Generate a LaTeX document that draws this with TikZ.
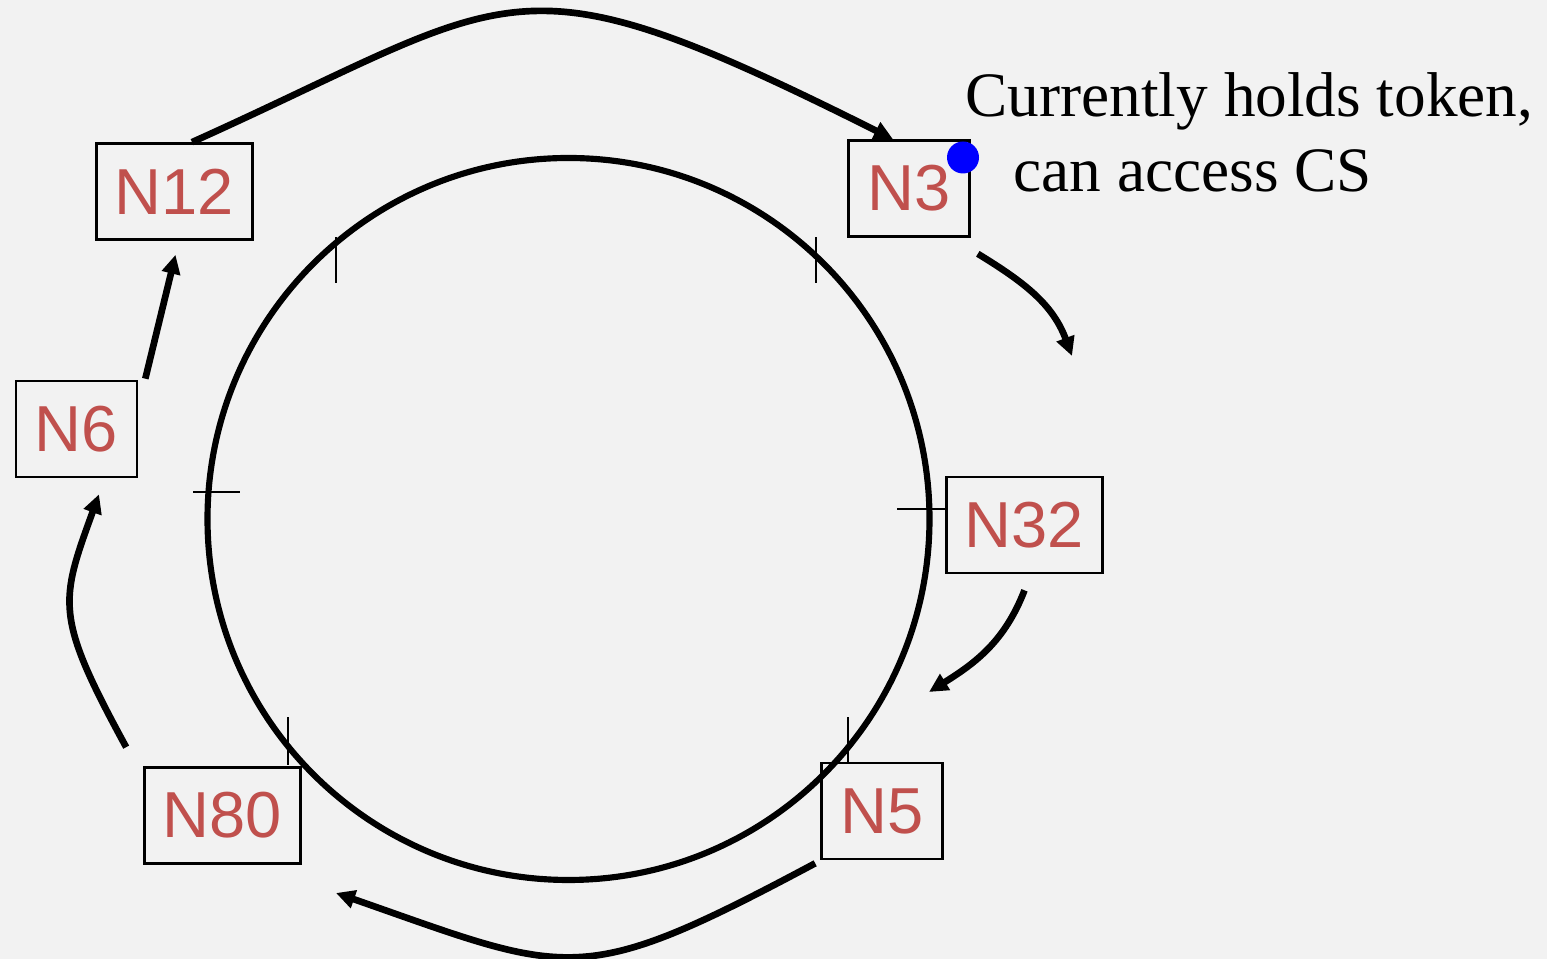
\documentclass[tikz,border=0pt]{standalone}
\usepackage{fontspec}
\setmainfont{Liberation Serif}
\newfontfamily\nodefont{Liberation Sans}
\usetikzlibrary{arrows.meta}
\definecolor{nodered}{RGB}{192,80,77}
\definecolor{slidegray}{RGB}{242,242,242}

\begin{document}
\begin{tikzpicture}[
  ring/.style={draw, rectangle, line width=0.75pt, minimum height=0.96cm, inner sep=0pt,
    text=nodered, font=\nodefont\fontsize{18.5}{22}\selectfont},
  flow/.style={-{Triangle[length=0.19cm,width=0.18cm]}, line width=1.9pt},
  tick/.style={line width=0.5pt}
]
\fill[slidegray] (0,0) rectangle (15.47,9.59);
\useasboundingbox (0,0) rectangle (15.47,9.59);
\draw[line width=1.75pt] (5.685,4.40) circle (3.61);
\draw[tick] (3.36,6.76) -- (3.36,7.22);
\draw[tick] (8.16,6.76) -- (8.16,7.22);
\draw[tick] (1.93,4.67) -- (2.40,4.67);
\draw[tick] (8.97,4.50) -- (9.45,4.50);
\draw[tick] (2.88,1.94) -- (2.88,2.42);
\draw[tick] (8.48,1.95) -- (8.48,2.42);
\node[ring, minimum width=1.56cm] (N12) at (1.745,7.675) {N12};
\node[ring, minimum width=1.21cm] (N3) at (9.09,7.705) {N3};
\node[ring, minimum width=1.21cm] (N6) at (0.765,5.30) {N6};
\node[ring, minimum width=1.56cm] (N32) at (10.245,4.34) {N32};
\node[ring, minimum width=1.21cm] (N5) at (8.82,1.48) {N5};
\node[ring, minimum width=1.56cm] (N80) at (2.225,1.435) {N80};
\node[circle, fill=blue, inner sep=0pt, minimum size=0.32cm] (token) at (9.63,8.015) {};
\node[anchor=base west, inner sep=0pt, align=left, font=\fontsize{18}{21.6}\selectfont]
  (holder) at (9.65,7.67) {Currently holds token,\\\hspace*{0.48cm}can access CS};
\coordinate (to32) at (10.72,6.03);
\coordinate (to5) at (9.29,2.67);
\coordinate (to80) at (3.36,0.66);
\draw[flow] ([xshift=0.175cm]N12.north) .. controls +(3.30,1.485) and +(-3.85,1.925) .. ([xshift=-0.16cm]N3.north);
\draw[flow] ([xshift=0.07cm,yshift=-0.16cm]N3.south east) .. controls +(0.468,-0.286) and +(-0.192,0.517) .. (to32);
\draw[flow] ([yshift=-0.16cm]N32.south) .. controls +(-0.198,-0.51) and +(0.4675,0.292) .. (to5);
\draw[flow] ([xshift=-0.05cm,yshift=-0.03cm]N5.south west) .. controls +(-2.376,-1.269) and +(2.35,-0.82) .. (to80);
\draw[flow] ([xshift=-0.17cm,yshift=0.19cm]N80.north west) .. controls +(-0.72,1.32) and +(-0.391,-1.081) .. ([xshift=0.225cm,yshift=-0.16cm]N6.south);
\draw[flow] ([xshift=0.07cm,yshift=0.01cm]N6.north east) -- ([xshift=0.01cm,yshift=-0.14cm]N12.south);
\end{tikzpicture}
\end{document}
